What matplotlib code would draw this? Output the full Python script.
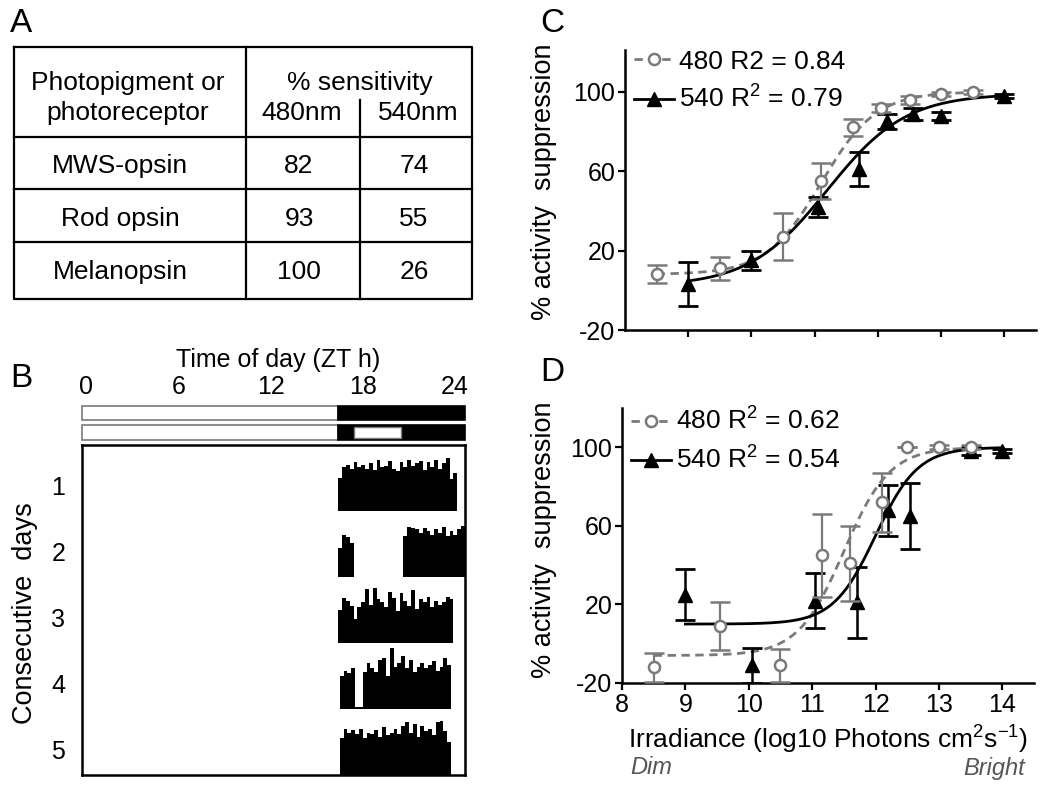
import numpy as np
import matplotlib.pyplot as plt
from matplotlib.lines import Line2D
from matplotlib.patches import Rectangle

plt.rcParams['font.family'] = ['Liberation Sans', 'DejaVu Sans']
plt.rcParams['mathtext.fontset'] = 'custom'
plt.rcParams['mathtext.rm'] = 'Liberation Sans'
plt.rcParams['mathtext.it'] = 'Liberation Sans:italic'
plt.rcParams['axes.unicode_minus'] = False

GRAY = '#7a7a7a'

# ---- Panel A: sensitivity table ----
pigments = ['MWS-opsin', 'Rod opsin', 'Melanopsin']
sens_480 = [82, 93, 100]
sens_540 = [74, 55, 26]

# ---- Panel B: actogram ----
hour_ticks = [0, 6, 12, 18, 24]
lights_off = 16.4
pulse_on, pulse_off = 17.4, 20.5
bin_h = 0.25
days = [1, 2, 3, 4, 5]
day_start = [16.4, 16.4, 16.4, 16.5, 16.5]
day_activity = [
    [50, 66, 70, 64, 74, 66, 70, 64, 72, 62, 78, 66, 68, 76, 64, 60,
     74, 66, 78, 68, 72, 76, 62, 74, 66, 78, 64, 72, 80, 48, 58],
    [44, 64, 60, 52, 0, 0, 0, 0, 0, 0, 0, 0, 0, 0, 0, 0, 0,
     62, 76, 74, 72, 66, 74, 70, 64, 72, 66, 76, 62, 70, 64, 72, 78],
    [50, 68, 64, 56, 36, 54, 62, 82, 58, 84, 66, 62, 54, 78, 68, 48,
     76, 64, 56, 80, 52, 66, 62, 70, 54, 64, 58, 62, 70, 66],
    [50, 58, 54, 62, 3, 3, 56, 70, 62, 56, 74, 78, 50, 92, 64, 70,
     80, 62, 74, 56, 64, 70, 62, 66, 72, 58, 64, 78, 66],
    [56, 70, 64, 68, 62, 70, 56, 64, 62, 68, 58, 72, 60, 64, 70, 62,
     74, 80, 64, 78, 58, 74, 66, 70, 60, 80, 82, 66, 50],
]

# ---- Panel C: irradiance response ----
c_x480 = [8.5, 9.5, 10.5, 11.1, 11.6, 12.05, 12.5, 13.0, 13.5]
c_y480 = [8, 11, 27, 55, 82, 92, 96, 99, 100]
c_e480 = [4.5, 6, 12, 9, 4.5, 2, 2, 1, 1]
c_x540 = [9.0, 10.0, 11.05, 11.7, 12.15, 12.55, 13.0, 14.0]
c_y540 = [3, 15, 42, 61, 85, 89, 88, 98]
c_e540 = [11, 5, 5, 8.5, 4, 3, 2, 1]
c_fit480 = (8, 100, 11.1, 1.0)   # bottom, top, logEC50, hill
c_fit540 = (2, 99, 11.2, 0.7)

# ---- Panel D ----
d_x480 = [8.5, 9.55, 10.5, 11.15, 11.6, 12.1, 12.5, 13.0, 13.5]
d_y480 = [-12, 9, -11, 45, 41, 72, 100, 100, 100]
d_e480 = [7.5, 12, 8.5, 21, 19, 15, 0, 1, 1]
d_x540 = [9.0, 10.05, 11.05, 11.7, 12.2, 12.55, 13.5, 14.0]
d_y540 = [25, -11, 22, 21, 68, 65, 98, 98]
d_e540 = [13, 9, 14, 18, 13, 17, 2, 1]
d_fit480 = (-6, 100, 11.5, 1.2)
d_fit540 = (10, 100, 12.0, 1.3)

W, H = 1050, 795


def box(l, t, r, b):
    """pixel box -> figure rect"""
    return [l / W, 1 - b / H, (r - l) / W, (b - t) / H]


def sigmoid(x, p):
    bottom, top, ec50, hill = p
    return bottom + (top - bottom) / (1 + 10 ** ((ec50 - x) * hill))


fig = plt.figure(figsize=(10.5, 7.95), dpi=100)

# overlay in pixel coordinates for table, letters and free labels
ov = fig.add_axes([0, 0, 1, 1])
ov.set_xlim(0, W)
ov.set_ylim(H, 0)
ov.axis('off')

lw_t = 1.6
ov.plot([14, 472, 472, 14, 14], [47, 47, 299, 299, 47], color='k', lw=lw_t)
ov.plot([246, 246], [47, 299], color='k', lw=lw_t)
ov.plot([360, 360], [100, 299], color='k', lw=lw_t)
for yy in [137, 189, 242]:
    ov.plot([14, 472], [yy, yy], color='k', lw=lw_t)

fs_tab = 19
ov.text(128, 83, 'Photopigment or', ha='center', va='center', fontsize=fs_tab)
ov.text(128, 113, 'photoreceptor', ha='center', va='center', fontsize=fs_tab)
ov.text(360, 83, '% sensitivity', ha='center', va='center', fontsize=fs_tab)
ov.text(302, 113, '480nm', ha='center', va='center', fontsize=fs_tab)
ov.text(418, 113, '540nm', ha='center', va='center', fontsize=fs_tab)
for i, name in enumerate(pigments):
    yy = 166 + i * 53
    ov.text(120, yy, name, ha='center', va='center', fontsize=fs_tab)
    ov.text(299, yy, str(sens_480[i]), ha='center', va='center', fontsize=fs_tab)
    ov.text(414, yy, str(sens_540[i]), ha='center', va='center', fontsize=fs_tab)

for letter, px, py in [('A', 10, 32), ('B', 10, 387), ('C', 540, 32), ('D', 540, 381)]:
    ov.text(px, py, letter, fontsize=24, ha='left', va='baseline')

ov.text(278, 360, 'Time of day (ZT h)', ha='center', va='center', fontsize=18)
ov.text(25, 613, 'Consecutive  days', rotation=90, ha='center', va='center', fontsize=19.5)
ov.text(544, 182, '% activity  suppression', rotation=90, ha='center', va='center', fontsize=19.5)
ov.text(544, 540, '% activity  suppression', rotation=90, ha='center', va='center', fontsize=19.5)
ov.text(828, 740, 'Irradiance (log10 Photons cm$^{2}$s$^{-1}$)', ha='center', va='center', fontsize=19)
ov.text(630, 768, 'Dim', ha='left', va='center', fontsize=17, style='italic', color='#555555')
ov.text(1025, 768, 'Bright', ha='right', va='center', fontsize=17, style='italic', color='#555555')

# ---- B: light/dark bars ----
xl = (-0.26, 24.65)
ld = fig.add_axes(box(82, 406, 465, 440))
ld.set_xlim(*xl)
ld.set_ylim(0, 34)
for sp in ld.spines.values():
    sp.set_visible(False)
ld.set_yticks([])
ld.xaxis.tick_top()
ld.set_xticks(hour_ticks)
ld.tick_params(axis='x', length=0, labelsize=18, pad=5)
# top bar: plain LD
ld.add_patch(Rectangle((xl[0], 20), lights_off - xl[0], 14, fc='white', ec=GRAY, lw=1.2, clip_on=False))
ld.add_patch(Rectangle((lights_off, 20), xl[1] - lights_off, 14, fc='black', ec='black', lw=1.2, clip_on=False))
# lower bar: LD with light pulse
ld.add_patch(Rectangle((xl[0], 0), lights_off - xl[0], 15, fc='white', ec=GRAY, lw=1.2, clip_on=False))
ld.add_patch(Rectangle((lights_off, 0), xl[1] - lights_off, 15, fc='black', ec='black', lw=1.2, clip_on=False))
ld.add_patch(Rectangle((pulse_on, 2), pulse_off - pulse_on, 11, fc='white', ec=GRAY, lw=1.0, clip_on=False))

# ---- B: actogram ----
act = fig.add_axes(box(82, 445, 465, 775))
act.set_xlim(*xl)
act.set_ylim(0, 5)
for d, start, vals in zip(days, day_start, day_activity):
    xs = start + bin_h * np.arange(len(vals))
    act.bar(xs, np.array(vals) / 100, width=bin_h, bottom=5 - d, align='edge',
            color='black', linewidth=0)
act.set_xticks([])
act.set_yticks([5 - d + 0.38 for d in days])
act.set_yticklabels([str(d) for d in days])
act.tick_params(axis='y', length=0, labelsize=18, pad=12)
for sp in act.spines.values():
    sp.set_linewidth(1.8)


def response_panel(ax, x480, y480, e480, x540, y540, e540, f480, f540, lab480, lab540):
    xf = np.linspace(8.5, 13.5, 200)
    ax.plot(xf, sigmoid(xf, f480), color=GRAY, ls=(0, (3, 2)), lw=2, zorder=2)
    xf = np.linspace(9, 14, 200)
    ax.plot(xf, sigmoid(xf, f540), color='black', lw=2, zorder=2)
    ax.errorbar(x480, y480, yerr=e480, fmt='o', ms=8, mfc='white', mec=GRAY, mew=1.8,
                ecolor=GRAY, elinewidth=1.6, capsize=7, capthick=1.8, zorder=4)
    ax.errorbar(x540, y540, yerr=e540, fmt='^', ms=10, mfc='black', mec='black',
                ecolor='black', elinewidth=1.8, capsize=7, capthick=2, zorder=3)
    ax.set_xlim(8, 14.5)
    ax.set_yticks([-20, 20, 60, 100])
    ax.set_xticks([9, 10, 11, 12, 13, 14])
    for s in ['top', 'right']:
        ax.spines[s].set_visible(False)
    for s in ['left', 'bottom']:
        ax.spines[s].set_linewidth(1.8)
    ax.tick_params(direction='out', length=5, width=1.6, labelsize=18, pad=2)
    ax.set_facecolor('none')
    handles = [Line2D([], [], color=GRAY, ls=(0, (3, 2)), lw=2, marker='o', ms=8,
                      mfc='white', mec=GRAY, mew=1.8),
               Line2D([], [], color='black', lw=2, marker='^', ms=10)]
    ax.legend(handles, [lab480, lab540], loc='upper left', bbox_to_anchor=(0.01, 1.02),
              frameon=False, fontsize=19, handlelength=1.5, handletextpad=0.2,
              labelspacing=0.45, borderaxespad=0, borderpad=0.2)


axC = fig.add_axes(box(625, 50, 1036, 330))
response_panel(axC, c_x480, c_y480, c_e480, c_x540, c_y540, c_e540, c_fit480, c_fit540,
               '480 R2 = 0.84', '540 R$^{2}$ = 0.79')
axC.set_ylim(-20, 121)
axC.set_xticklabels([])

axD = fig.add_axes(box(622, 408, 1034, 683))
response_panel(axD, d_x480, d_y480, d_e480, d_x540, d_y540, d_e540, d_fit480, d_fit540,
               '480 R$^{2}$ = 0.62', '540 R$^{2}$ = 0.54')
axD.set_ylim(-20, 120)
axD.set_xticks([8, 9, 10, 11, 12, 13, 14])

fig.savefig('out.png', dpi=100)
